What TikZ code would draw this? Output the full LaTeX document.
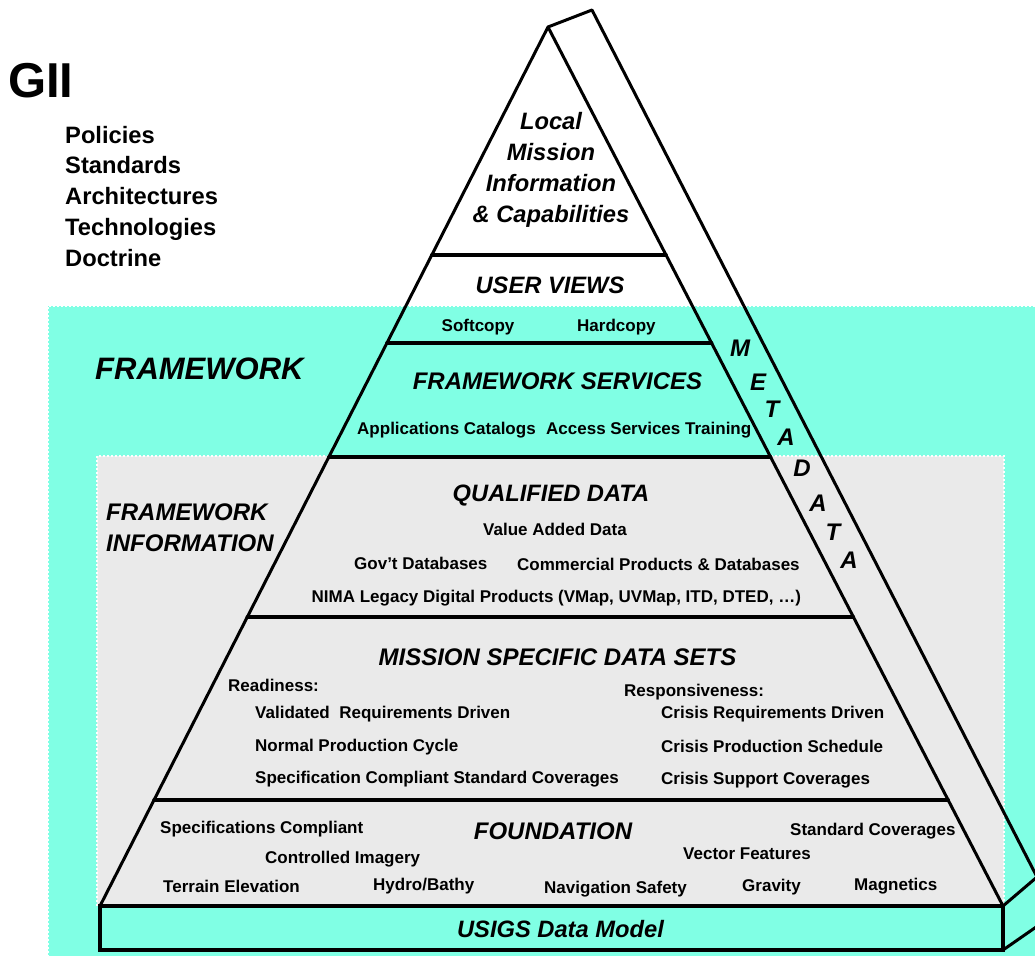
\documentclass[tikz,border=0pt]{standalone}
\usepackage{fontspec}
\setmainfont{Liberation Sans}
\usetikzlibrary{calc}
\definecolor{aqua}{RGB}{128,255,228}
\definecolor{lgray}{RGB}{234,234,234}
\begin{document}
\begin{tikzpicture}[x=1pt,y=-1pt,
  edge/.style={line width=3pt, line cap=round, line join=round},
  dots/.style={white, line width=1.5pt, dash pattern=on 2pt off 2pt},
  sm/.style={inner sep=0pt, anchor=base west, font=\fontsize{17}{17}\selectfont\bfseries},
  hd/.style={inner sep=0pt, anchor=base, font=\fontsize{24}{24}\selectfont\bfseries\itshape},
  lst/.style={inner sep=0pt, anchor=base west, font=\fontsize{23.7}{23.7}\selectfont\bfseries},
  meta/.style={inner sep=0pt, font=\fontsize{24}{24}\selectfont\bfseries\itshape}]
\useasboundingbox (0,0) rectangle (1035,955);
\clip (0,0) rectangle (1035,955);
\fill[white] (0,0) rectangle (1035,955);
% background regions
\fill[aqua] (48,306) rectangle (1045,965);
\fill[lgray] (97,456) rectangle (1004,906);
\draw[dots] (48,965) -- (48,306) -- (1045,306);
\draw[dots] (97,906) -- (97,456) -- (1004,456) -- (1004,906);
% key points
\coordinate (apex) at (548,27);
\coordinate (bl) at (100,906);
\coordinate (br) at (1003,906);
\coordinate (mtop) at (592,10);
\coordinate (mcorner) at (1037,877);
\coordinate (bbr) at (1003,950);
\coordinate (mback) at (1039,925);
% base
\draw[edge, line width=4pt, line cap=butt, line join=miter, fill=aqua] (bl) rectangle (bbr);
\draw[edge] (br) -- (mcorner);
\draw[edge] (bbr) -- (mback);
% metadata strip and pyramid
\draw[edge] (apex) -- (mtop) -- (mcorner);
\draw[edge] (bl) -- (apex) -- (br);
% dividers
\foreach \t/\n in {0.2594/1,0.3595/2,0.4892/3,0.6712/4,0.8794/5}{
  \coordinate (l\n) at ($(apex)!\t!(bl)$);
  \coordinate (r\n) at ($(apex)!\t!(br)$);
}
\draw[edge, line width=3.5pt] (l1) -- (r1);
\draw[edge, line width=3.5pt] (l2) -- (r2);
\draw[edge, line width=3.5pt] (l3) -- (r3);
\draw[edge, line width=3.5pt] (l4) -- (r4);
\draw[edge, line width=3.5pt] (l5) -- (r5);
% GII and list
\node[inner sep=0pt, anchor=base west, font=\fontsize{49}{49}\selectfont\bfseries] (gii) at (8,98) {GII};
\node[lst] (pol) at (65,143) {Policies};
\node[lst] (sta) at (65,173.75) {Standards};
\node[lst] (arc) at (65,204.5) {Architectures};
\node[lst] (tec) at (65,235.25) {Technologies};
\node[lst] (doc) at (65,266) {Doctrine};
% top
\node[hd, font=\fontsize{23.7}{23.7}\selectfont\bfseries\itshape] (loc1) at (551,129.5) {Local};
\node[hd, font=\fontsize{23.7}{23.7}\selectfont\bfseries\itshape] (loc2) at (551,160.5) {Mission};
\node[hd, font=\fontsize{23.7}{23.7}\selectfont\bfseries\itshape] (loc3) at (551,191.5) {Information};
\node[hd, font=\fontsize{23.7}{23.7}\selectfont\bfseries\itshape] (loc4) at (551,222) {\& Capabilities};
\node[hd, font=\fontsize{23.7}{23.7}\selectfont\bfseries\itshape] (uv) at (550,293.5) {USER VIEWS};
\node[sm] (soft) at (441.5,331) {Softcopy};
\node[sm] (hard) at (577,331) {Hardcopy};
% framework
\node[inner sep=0pt, anchor=base west, font=\fontsize{31}{31}\selectfont\bfseries\itshape] (fw) at (95,379) {FRAMEWORK};
\node[hd] (fws) at (557.5,389) {FRAMEWORK SERVICES};
\node[sm] (app) at (357,434) {Applications Catalogs};
\node[sm] (acc) at (546,434) {Access Services Training};
% metadata letters
\node[meta] (m1) at (740,348) {M};
\node[meta] (m2) at (758,382) {E};
\node[meta] (m3) at (772,409) {T};
\node[meta] (m4) at (786,437) {A};
\node[meta] (m5) at (802,468) {D};
\node[meta] (m6) at (818,503) {A};
\node[meta] (m7) at (833,532) {T};
\node[meta] (m8) at (849,560) {A};
% framework information
\node[inner sep=0pt, anchor=base west, font=\fontsize{24}{24}\selectfont\bfseries\itshape] (fi1) at (106,520) {FRAMEWORK};
\node[inner sep=0pt, anchor=base west, font=\fontsize{24}{24}\selectfont\bfseries\itshape] (fi2) at (106,551) {INFORMATION};
\node[hd, font=\fontsize{23.7}{23.7}\selectfont\bfseries\itshape] (qd) at (551,501.5) {QUALIFIED DATA};
\node[sm] (vad) at (483,535) {Value Added Data};
\node[sm] (gov) at (354,569.5) {Gov’t Databases};
\node[sm] (com) at (517,570) {Commercial Products \& Databases};
\node[sm] (nima) at (311.5,602) {NIMA Legacy Digital Products (VMap, UVMap, ITD, DTED, …)};
% mission specific
\node[hd] (msd) at (557.5,665.5) {MISSION SPECIFIC DATA SETS};
\node[sm] (rea) at (228,691) {Readiness:};
\node[sm] (val) at (255,718) {Validated~ Requirements Driven};
\node[sm] (npc) at (255,751) {Normal Production Cycle};
\node[sm] (scs) at (255,783.5) {Specification Compliant Standard Coverages};
\node[sm] (res) at (624,696) {Responsiveness:};
\node[sm] (crd) at (661,718) {Crisis Requirements Driven};
\node[sm] (cps) at (661,752) {Crisis Production Schedule};
\node[sm] (csc) at (661,784) {Crisis Support Coverages};
% foundation
\node[hd] (fnd) at (553,839.5) {FOUNDATION};
\node[sm] (spc) at (160,833.5) {Specifications Compliant};
\node[sm] (stc) at (790,835) {Standard Coverages};
\node[sm] (cim) at (265,863.5) {Controlled Imagery};
\node[sm] (vf) at (683,859) {Vector Features};
\node[sm] (te) at (163,892) {Terrain Elevation};
\node[sm] (hb) at (373,890) {Hydro/Bathy};
\node[sm] (ns) at (544,893) {Navigation Safety};
\node[sm] (gr) at (742,891) {Gravity};
\node[sm] (mg) at (854,890.5) {Magnetics};
% base label
\node[hd, font=\fontsize{23.7}{23.7}\selectfont\bfseries\itshape] (usigs) at (560.5,937) {USIGS Data Model};
\end{tikzpicture}
\end{document}
